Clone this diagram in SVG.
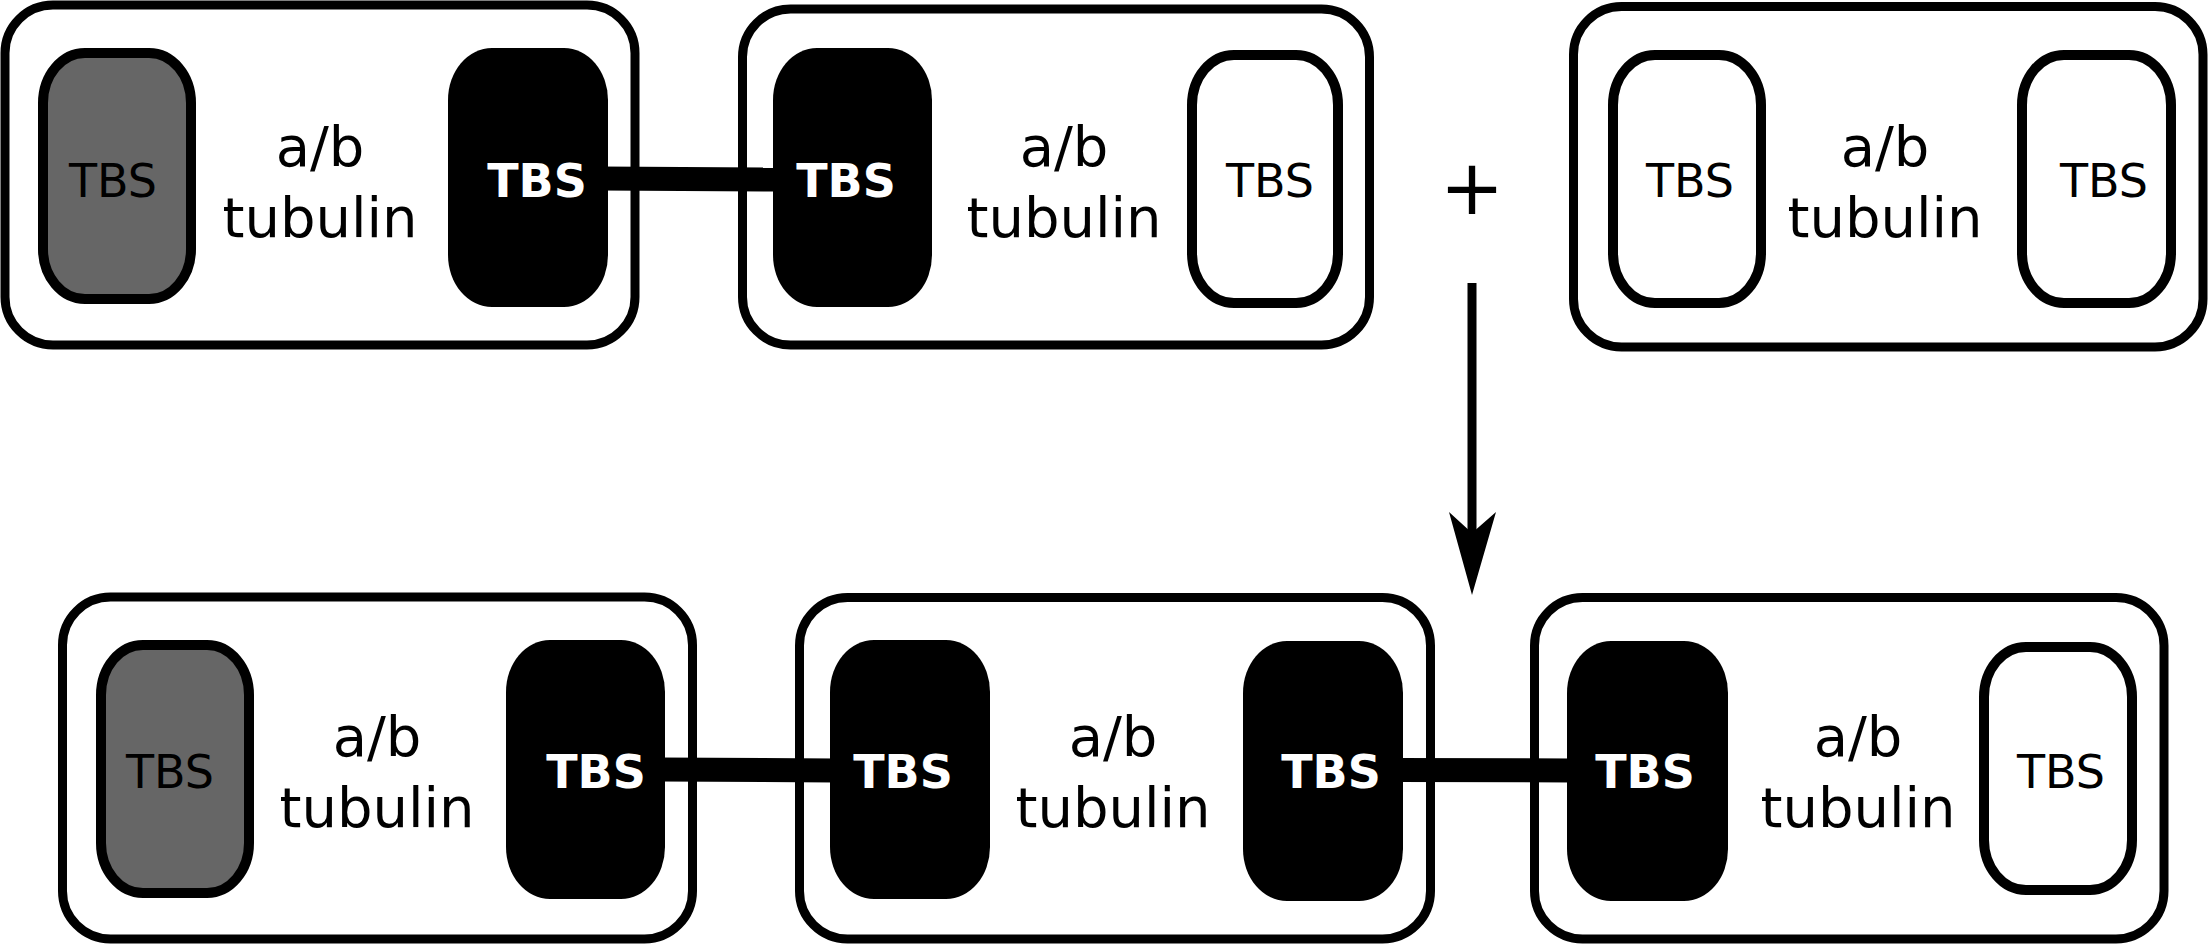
<svg xmlns="http://www.w3.org/2000/svg" width="2208" height="945" viewBox="0 0 2208 945">
<style>
.box{fill:none;stroke:#000;stroke-width:9}
.pw{fill:#fff;stroke:#000;stroke-width:10}
.pg{fill:#666;stroke:#000;stroke-width:10}
.pb{fill:#000;stroke:none}
.t{font-family:"DejaVu Sans",sans-serif;font-size:46px;text-anchor:middle;fill:#000}
.tb{font-family:"DejaVu Sans",sans-serif;font-size:46px;font-weight:bold;text-anchor:middle;fill:#fff}
.lab{font-family:"DejaVu Sans",sans-serif;font-size:56px;text-anchor:middle;fill:#000}
.bar{stroke:#000;stroke-width:24}
</style>
<rect width="2208" height="945" fill="#fff"/>
<g id="connectors">
<line class="bar" x1="600" y1="178.5" x2="780" y2="179.5"/>
<line class="bar" x1="660" y1="769.5" x2="835" y2="770.5"/>
<line class="bar" x1="1398" y1="770" x2="1572" y2="770.5"/>
<line x1="1472" y1="283" x2="1472" y2="540" stroke="#000" stroke-width="9"/>
<polygon points="1449,512 1472,533 1496,512 1472,595" fill="#000"/>
</g>
<g id="plus"><text x="1472" y="214" font-family="DejaVu Sans,sans-serif" font-size="77" text-anchor="middle">+</text></g>
<g id="node-top1">
<rect class="box" x="5" y="5" width="630" height="340" rx="48" ry="48"/>
<rect class="pg" x="43" y="53" width="148" height="246" rx="42" ry="50"/>
<text class="t" x="113" y="197">TBS</text>
<text class="lab" x="320" y="166">a/b</text>
<text class="lab" x="320" y="237">tubulin</text>
<rect class="pb" x="448" y="48" width="160" height="259" rx="44" ry="52"/>
<text class="tb" x="537" y="197">TBS</text>
</g>
<g id="node-top2">
<rect class="box" x="742.5" y="9" width="627" height="336" rx="48" ry="48"/>
<rect class="pb" x="773" y="48" width="159" height="259" rx="44" ry="52"/>
<text class="tb" x="846" y="197">TBS</text>
<text class="lab" x="1064" y="166">a/b</text>
<text class="lab" x="1064" y="237">tubulin</text>
<rect class="pw" x="1192" y="55" width="146" height="248" rx="42" ry="50"/>
<text class="t" x="1270" y="197">TBS</text>
</g>
<g id="node-top3">
<rect class="box" x="1573.5" y="6.5" width="629.5" height="340.5" rx="48" ry="48"/>
<rect class="pw" x="1613" y="55" width="148" height="248" rx="42" ry="50"/>
<text class="t" x="1690" y="197">TBS</text>
<text class="lab" x="1885" y="166">a/b</text>
<text class="lab" x="1885" y="237">tubulin</text>
<rect class="pw" x="2022" y="55" width="149" height="248" rx="42" ry="50"/>
<text class="t" x="2104" y="197">TBS</text>
</g>
<g id="node-bot1">
<rect class="box" x="62.5" y="597" width="630" height="342" rx="48" ry="48"/>
<rect class="pg" x="101" y="645" width="148" height="248" rx="42" ry="50"/>
<text class="t" x="170" y="788">TBS</text>
<text class="lab" x="377" y="756">a/b</text>
<text class="lab" x="377" y="827">tubulin</text>
<rect class="pb" x="506" y="640" width="159" height="259" rx="44" ry="52"/>
<text class="tb" x="596" y="788">TBS</text>
</g>
<g id="node-bot2">
<rect class="box" x="799.5" y="597.5" width="631" height="341.5" rx="48" ry="48"/>
<rect class="pb" x="830" y="640" width="160" height="259" rx="44" ry="52"/>
<text class="tb" x="903" y="788">TBS</text>
<text class="lab" x="1113" y="756">a/b</text>
<text class="lab" x="1113" y="827">tubulin</text>
<rect class="pb" x="1243" y="641" width="160" height="260" rx="44" ry="52"/>
<text class="tb" x="1331" y="788">TBS</text>
</g>
<g id="node-bot3">
<rect class="box" x="1534.5" y="597.5" width="629.5" height="341.5" rx="48" ry="48"/>
<rect class="pb" x="1567" y="641" width="161" height="260" rx="44" ry="52"/>
<text class="tb" x="1645" y="788">TBS</text>
<text class="lab" x="1858" y="756">a/b</text>
<text class="lab" x="1858" y="827">tubulin</text>
<rect class="pw" x="1984" y="647" width="148" height="243" rx="42" ry="50"/>
<text class="t" x="2061" y="788">TBS</text>
</g>
</svg>
